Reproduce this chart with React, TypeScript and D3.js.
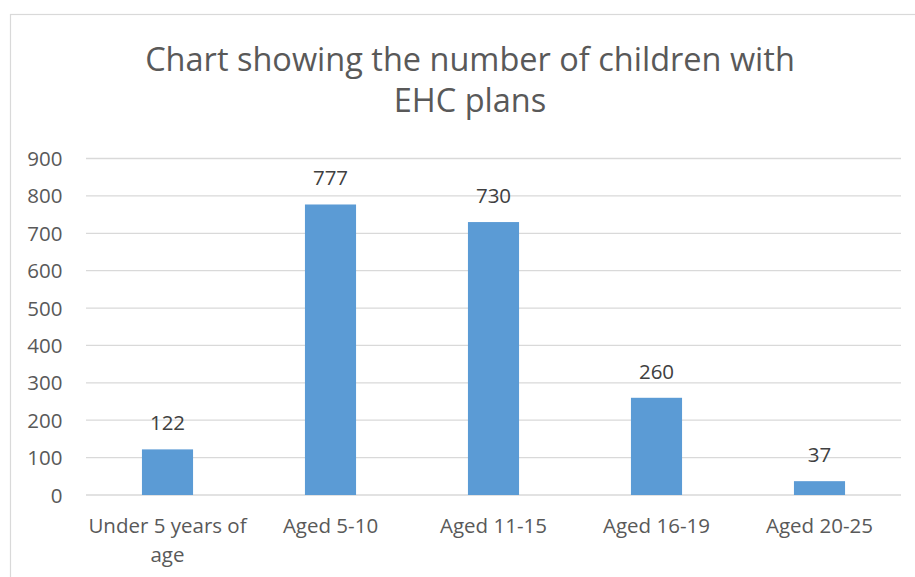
// @ts-nocheck
import React from 'react'
import * as d3 from 'd3'

const categories = [['Under 5 years of', 'age'], ['Aged 5-10'], ['Aged 11-15'], ['Aged 16-19'], ['Aged 20-25']]
const values = [122, 777, 730, 260, 37]
const yTicks = [0, 100, 200, 300, 400, 500, 600, 700, 800, 900]
const titleLines = ['Chart showing the number of children with', 'EHC plans']

const W = 915
const H = 577
const margin = { left: 86, right: 14, top: 158.5, bottom: 82 }
const font = '"Open Sans", sans-serif'

const App = () => {
  const x = d3
    .scaleBand()
    .domain(categories.map((c) => c.join(' ')))
    .range([margin.left, W - margin.right])
    .paddingInner(0.6865)
    .paddingOuter(0.34325)

  const y = d3.scaleLinear().domain([0, 900]).range([H - margin.bottom, margin.top])

  return (
    <svg width={W} height={H} style={{ position: 'absolute', left: 0, top: 0, background: '#fff' }}>
      <rect x={10.5} y={14.5} width={920} height={600} fill="#fff" stroke="#d9d9d9" strokeWidth={1.2} />
      <g fontFamily={font} fill="#595959" textAnchor="middle">
        {titleLines.map((t, i) => (
          <text key={t} x={470} y={70.5 + i * 41} fontSize={32.5}>
            {t}
          </text>
        ))}
      </g>
      <g>
        {yTicks.map((t) => (
          <g key={t}>
            <line x1={margin.left} x2={W - margin.right} y1={y(t)} y2={y(t)} stroke="#d9d9d9" strokeWidth={1.3} />
            <text x={62.5} y={y(t) + 7.5} textAnchor="end" fontFamily={font} fontSize={20.5} fill="#595959">
              {t}
            </text>
          </g>
        ))}
      </g>
      <g>
        {categories.map((c, i) => {
          const key = c.join(' ')
          const cx = x(key) + x.bandwidth() / 2
          return (
            <g key={key}>
              <rect x={x(key)} y={y(values[i])} width={x.bandwidth()} height={y(0) - y(values[i])} fill="#5b9bd5" />
              <text x={cx} y={y(values[i]) - 19} textAnchor="middle" fontFamily={font} fontSize={20.5} fill="#404040">
                {values[i]}
              </text>
              {c.map((line, j) => (
                <text key={line} x={cx} y={532.5 + j * 29.5} textAnchor="middle" fontFamily={font} fontSize={20.5} fill="#595959">
                  {line}
                </text>
              ))}
            </g>
          )
        })}
      </g>
    </svg>
  )
}

export default App
